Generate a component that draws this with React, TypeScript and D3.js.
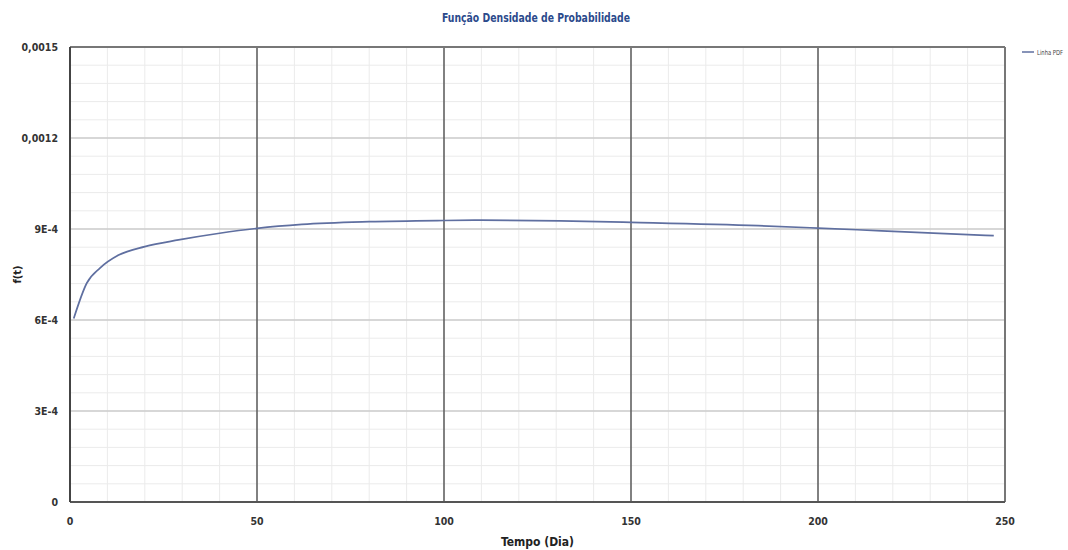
import React from "react";
import * as d3 from "d3";

const tDays = [1, 4.5, 8, 13, 20, 29, 40, 50, 62, 80, 100, 110, 131, 150, 184, 200, 217, 247];
const pdfValues = [
  6.05e-4, 7.22e-4, 7.71e-4, 8.14e-4, 8.42e-4, 8.64e-4, 8.86e-4, 9.02e-4, 9.15e-4,
  9.24e-4, 9.28e-4, 9.29e-4, 9.27e-4, 9.22e-4, 9.11e-4, 9.03e-4, 8.94e-4, 8.78e-4,
];
const xTicks = [0, 50, 100, 150, 200, 250];
const yTicks = [0, 0.0003, 0.0006, 0.0009, 0.0012, 0.0015];
const yTickLabels = ["0", "3E-4", "6E-4", "9E-4", "0,0012", "0,0015"];
const xMinor = d3.range(0, 251, 10);
const yMinor = d3.range(0, 26).map((i) => i * 0.00006);

const W = 1068;
const H = 550;
const left = 70;
const right = 1005;
const top = 47;
const bottom = 502;
const FONT = "'DejaVu Sans Condensed', 'DejaVu Sans', sans-serif";

export default function App() {
  const x = d3.scaleLinear().domain([0, 250]).range([left, right]);
  const y = d3.scaleLinear().domain([0, 0.0015]).range([bottom, top]);
  const data = tDays.map((t, i) => [t, pdfValues[i]] as [number, number]);
  const line = d3
    .line<[number, number]>()
    .x((d) => x(d[0]))
    .y((d) => y(d[1]))
    .curve(d3.curveMonotoneX);

  const txt = { fontFamily: FONT, fontStretch: "condensed" as const };

  return (
    <svg
      width={W}
      height={H}
      style={{ position: "absolute", left: 0, top: 0, background: "#fff" }}
    >
      <rect x={0} y={0} width={W} height={H} fill="#fff" />
      {xMinor.map((v) => (
        <line key={"xm" + v} x1={x(v)} x2={x(v)} y1={top} y2={bottom} stroke="#ebebeb" strokeWidth={1} />
      ))}
      {yMinor.map((v, i) => (
        <line key={"ym" + i} x1={left} x2={right} y1={y(v)} y2={y(v)} stroke="#ebebeb" strokeWidth={1} />
      ))}
      {yTicks.map((v) => (
        <line key={"yM" + v} x1={left} x2={right} y1={y(v)} y2={y(v)} stroke="#cdcdcd" strokeWidth={1.5} />
      ))}
      {xTicks.slice(1, -1).map((v) => (
        <line key={"xM" + v} x1={x(v)} x2={x(v)} y1={top} y2={bottom} stroke="#5a5a5a" strokeWidth={1.5} />
      ))}
      <line x1={left} x2={right} y1={top} y2={top} stroke="#777" strokeWidth={2} />
      <line x1={right} x2={right} y1={top} y2={bottom} stroke="#777" strokeWidth={2} />
      <line x1={left} x2={right} y1={bottom} y2={bottom} stroke="#555" strokeWidth={2} />
      <line x1={left} x2={left} y1={top} y2={bottom} stroke="#444" strokeWidth={2} />
      <path d={line(data) || ""} fill="none" stroke="#5f6fa0" strokeWidth={1.7} />
      {yTicks.map((v, i) => (
        <text key={"yl" + v} x={58} y={y(v) + 4} textAnchor="end" fontSize={10.5} fontWeight="bold" fill="#333" style={txt}>
          {yTickLabels[i]}
        </text>
      ))}
      {xTicks.map((v) => (
        <text key={"xl" + v} x={x(v)} y={525} textAnchor="middle" fontSize={10.5} fontWeight="bold" fill="#333" style={txt}>
          {v}
        </text>
      ))}
      <text
        transform={`translate(21,${(top + bottom) / 2}) rotate(-90)`}
        textAnchor="middle"
        fontSize={11}
        fontWeight="bold"
        fill="#222"
        style={txt}
      >
        f(t)
      </text>
      <text x={(left + right) / 2} y={546} textAnchor="middle" fontSize={12} fontWeight="bold" fill="#222" style={txt}>
        Tempo (Dia)
      </text>
      <text
        x={536}
        y={22}
        textAnchor="middle"
        fontSize={12}
        fontWeight="bold"
        fill="#2b4a8c"
        style={txt}
        textLength={188}
        lengthAdjust="spacingAndGlyphs"
      >
        Função Densidade de Probabilidade
      </text>
      <line x1={1022} x2={1034} y1={52} y2={52} stroke="#5f6fa0" strokeWidth={1.5} />
      <text x={1037} y={55} fontSize={7} fill="#444" style={txt} textLength={26} lengthAdjust="spacingAndGlyphs">
        Linha PDF
      </text>
    </svg>
  );
}
